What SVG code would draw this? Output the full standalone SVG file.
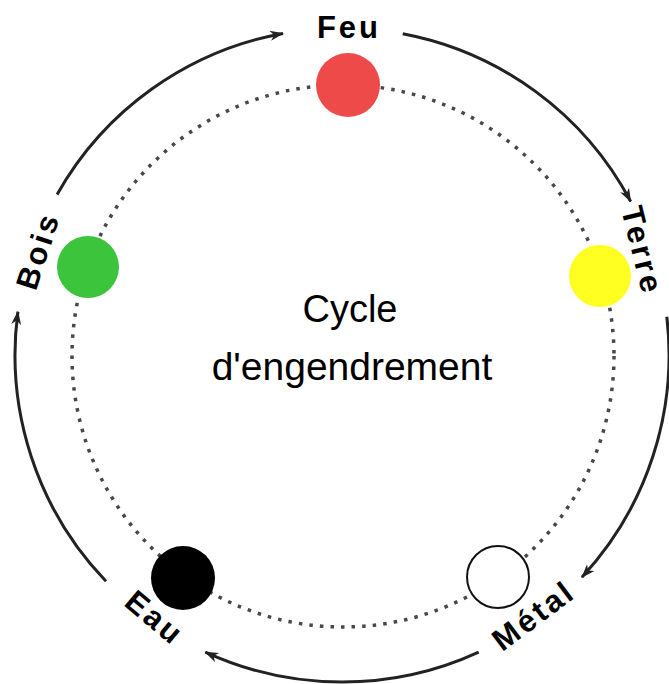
<svg xmlns="http://www.w3.org/2000/svg" width="669" height="684" viewBox="0 0 669 684">
<style>
.arc{fill:none;stroke:#222;stroke-width:3;marker-end:url(#ah)}
.dots{fill:none;stroke:#484848;stroke-width:3.5;stroke-dasharray:3.5 7.1}
.lbl{font-family:"Liberation Sans",Arial,sans-serif;font-weight:bold;font-size:31px;letter-spacing:3px;fill:#000;text-anchor:middle}
.ctr{font-family:"Liberation Sans",Arial,sans-serif;fill:#000;text-anchor:middle}
</style>
<defs>
<marker id="ah" markerUnits="userSpaceOnUse" markerWidth="16" markerHeight="12" refX="13" refY="5" orient="auto">
<path d="M0,0 L14,5 L0,10 L4,5 z" fill="#222"/>
</marker>
</defs>
<rect width="669" height="684" fill="#fff"/>
<g id="connectors">
<circle class="dots" cx="343" cy="356" r="271"/>
<path class="arc" d="M57.1,194.5 A327,327 0 0 1 283,33.4"/>
<path class="arc" d="M402.7,33.7 A327,327 0 0 1 630.7,201.5"/>
<path class="arc" d="M666.8,316.8 A327,327 0 0 1 581.9,577.2"/>
<path class="arc" d="M478.7,652.1 A327,327 0 0 1 205.3,652.1"/>
<path class="arc" d="M106,581.3 A327,327 0 0 1 17.9,311.7"/>
</g>
<g id="feu">
<circle cx="348" cy="85" r="32" fill="#ee4a4a"/>
<text class="lbl" x="349" y="38">Feu</text>
</g>
<g id="terre">
<circle cx="600" cy="276" r="31" fill="#ffff22"/>
<text class="lbl" transform="translate(632,253) rotate(76)">Terre</text>
</g>
<g id="metal">
<circle cx="498" cy="577" r="31" fill="#fff" stroke="#111" stroke-width="2"/>
<text class="lbl" transform="translate(540,624) rotate(-37)">Métal</text>
</g>
<g id="eau">
<circle cx="183" cy="578" r="32" fill="#000"/>
<text class="lbl" transform="translate(148,626) rotate(40)">Eau</text>
</g>
<g id="bois">
<circle cx="88" cy="267" r="31" fill="#3cc43c"/>
<text class="lbl" transform="translate(48,254) rotate(-72)">Bois</text>
</g>
<g id="centre">
<text class="ctr" x="350" y="322" font-size="38">Cycle</text>
<text class="ctr" x="352" y="380" font-size="39">d'engendrement</text>
</g>
</svg>
